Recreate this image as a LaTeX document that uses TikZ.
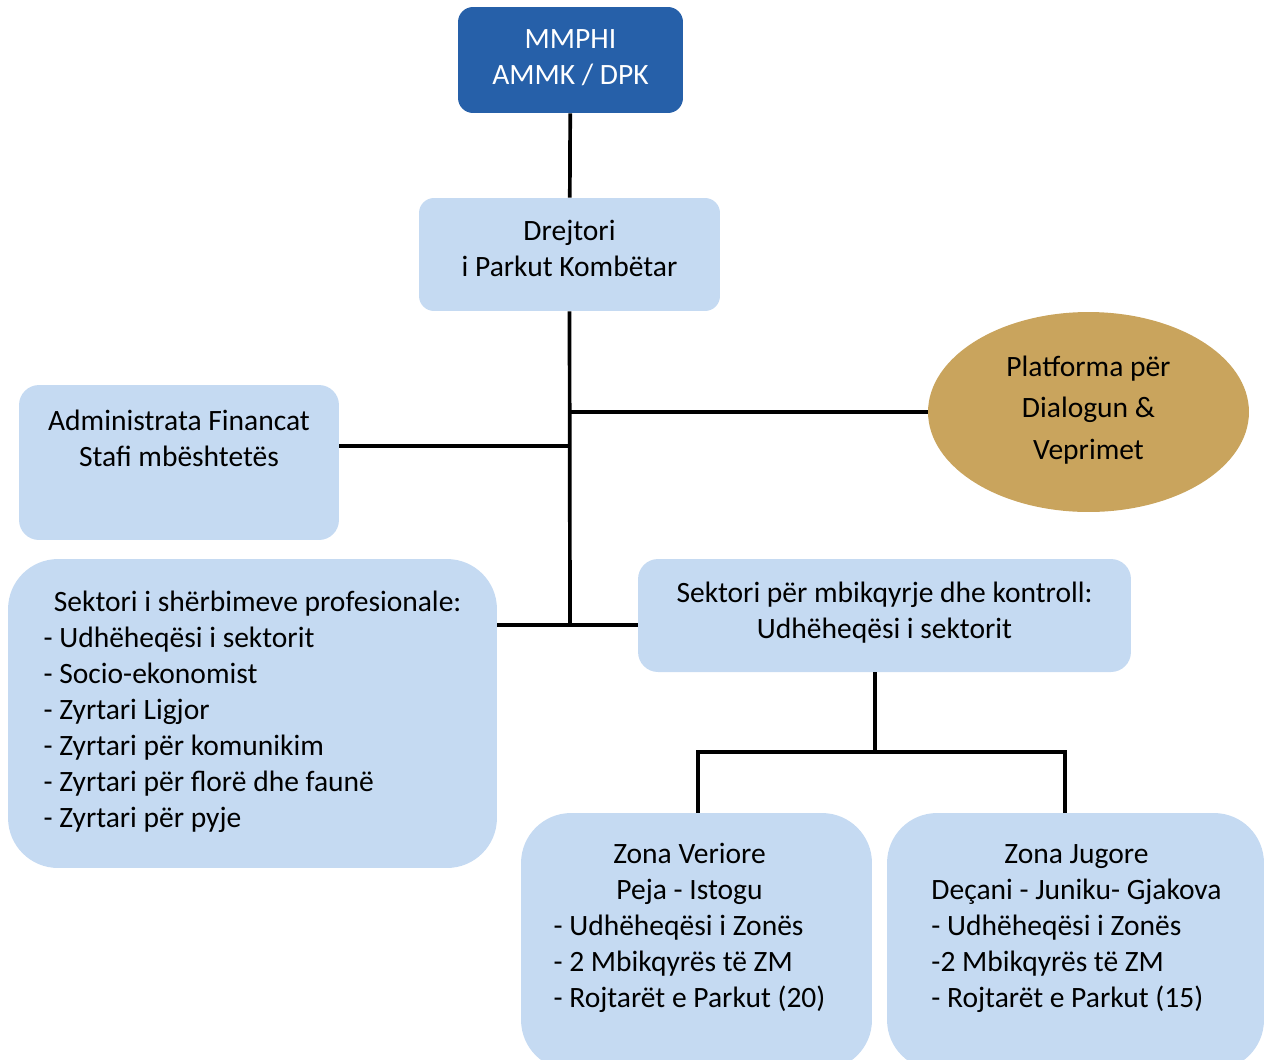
\documentclass[tikz,border=0pt]{standalone}
\usepackage{fontspec}
\setmainfont{Carlito}
\usetikzlibrary{positioning,shapes.geometric}

\definecolor{darkblue}{HTML}{2660A9}
\definecolor{lightblue}{HTML}{C5DAF2}
\definecolor{gold}{HTML}{C9A45D}

\tikzset{
    box/.style={rectangle, fill=lightblue, text=black, align=center, inner sep=0pt,
        text depth=0.25cm, font=\fontsize{16.8}{20.5}\selectfont},
    topbox/.style={box, fill=darkblue, text=white, text depth=0.1cm},
    platform/.style={ellipse, fill=gold, align=center, inner sep=0pt,
        text depth=0.18cm, font=\fontsize{16.8}{23.5}\selectfont},
    conn/.style={line width=2.1pt, black}
}

\begin{document}
\begin{tikzpicture}[x=0.02cm, y=-0.02cm]

    % Frame of the whole picture (pixel grid of the reference)
    \useasboundingbox (0,0) rectangle (1267,1059);

    % 1. Top of the hierarchy
    \node[topbox, rounded corners=0.3cm, minimum width=4.5cm, minimum height=2.12cm]
        (mmphi) at (570.5,60) {MMPHI\\AMMK / DPK};
    \node[box, rounded corners=0.3cm, minimum width=6.02cm, minimum height=2.26cm]
        (drejtori) at (569.5,254.5) {Drejtori\\i Parkut Kombëtar};

    % 2. Side units
    \node[box, rounded corners=0.4cm, minimum width=6.4cm, minimum height=3.1cm]
        (admin) at (179,462.5) {Administrata Financat\\Stafi mbështetës\\\mbox{}};
    \node[platform, minimum width=6.42cm, minimum height=4cm]
        (platforma) at (1088.5,412) {Platforma për\\Dialogun \&\\Veprimet};

    % 3. The two sectors
    \node[box, align=left, rounded corners=1cm, minimum width=9.78cm, minimum height=6.18cm,
        text depth=0.18cm]
        (profesionale) at (252.5,713.5)
        {\hspace*{0.35em}Sektori i shërbimeve profesionale:\\
         - Udhëheqësi i sektorit\\
         - Socio-ekonomist\\
         - Zyrtari Ligjor\\
         - Zyrtari për komunikim\\
         - Zyrtari për florë dhe faunë\\
         - Zyrtari për pyje};
    \node[box, rounded corners=0.4cm, minimum width=9.86cm, minimum height=2.26cm,
        text depth=0.2cm]
        (mbikqyrje) at (884.5,615.5)
        {Sektori për mbikqyrje dhe kontroll:\\Udhëheqësi i sektorit};

    % 4. The two zones (boxes run past the lower edge)
    \node[box, rounded corners=1cm, minimum width=7.02cm, minimum height=5.14cm]
        (veriore) at (696.5,941.5) {};
    \node[box, rounded corners=1cm, minimum width=7.54cm, minimum height=5.14cm]
        (jugore) at (1075.5,941.5) {};

    \node[box, fill=none, anchor=north, text depth=] (verioretxt)
        at ([xshift=-0.14cm, yshift=-0.5cm]veriore.north)
        {\begin{tabular}{@{}l@{}}
            \multicolumn{1}{@{}c@{}}{Zona Veriore}\\
            \multicolumn{1}{@{}c@{}}{Peja - Istogu}\\
            - Udhëheqësi i Zonës\\
            - 2 Mbikqyrës të ZM\\
            - Rojtarët e Parkut (20)
        \end{tabular}};
    \node[box, fill=none, anchor=north, text depth=] (jugoretxt)
        at ([xshift=0.02cm, yshift=-0.5cm]jugore.north)
        {\begin{tabular}{@{}l@{}}
            \multicolumn{1}{@{}c@{}}{Zona Jugore}\\
            \multicolumn{1}{@{}c@{}}{Deçani - Juniku- Gjakova}\\
            - Udhëheqësi i Zonës\\
            -2 Mbikqyrës të ZM\\
            - Rojtarët e Parkut (15)
        \end{tabular}};

    % 5. Junction points of the connectors
    \coordinate (trunk) at (570,625);
    \coordinate (split) at (875,752);

    % 6. Connectors
    \draw[conn] (mmphi) -- (drejtori);
    \draw[conn] (drejtori.south) -- (trunk);
    \draw[conn] (platforma.west) -- (platforma.west -| trunk);
    \draw[conn] ([yshift=0.33cm]admin.east) -- ([yshift=0.33cm]admin.east -| trunk);
    \draw[conn] (profesionale.east |- trunk) -- (mbikqyrje.west |- trunk);
    \draw[conn] (split |- mbikqyrje.south) -- (split);
    \draw[conn] ([xshift=0.03cm]veriore.north) |- (split)
        -| ([xshift=-0.21cm]jugore.north);

\end{tikzpicture}
\end{document}
